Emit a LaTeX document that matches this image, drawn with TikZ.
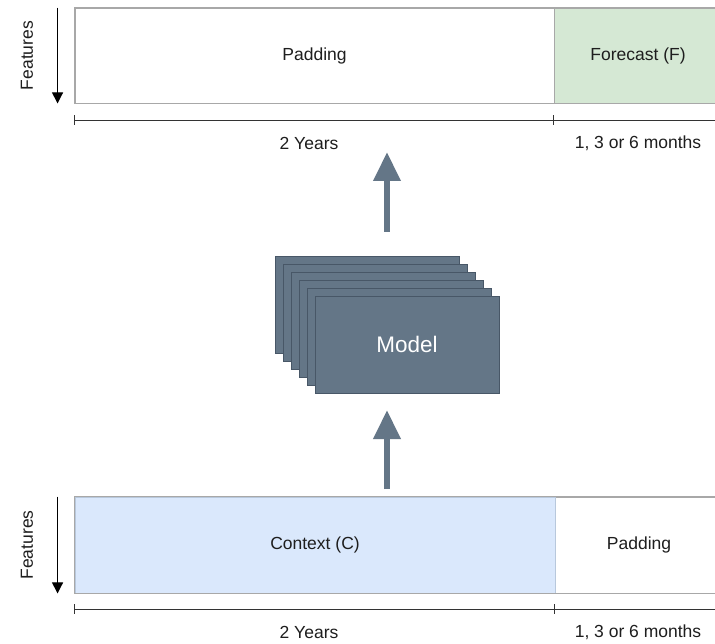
\documentclass[tikz,border=0pt]{standalone}
\usepackage{fontspec}
\setmainfont{Liberation Sans}
\usetikzlibrary{arrows.meta}
\definecolor{boxline}{HTML}{A8A8A8}
\definecolor{ctxfill}{HTML}{DAE8FC}
\definecolor{ctxline}{HTML}{B8C8DC}
\definecolor{fcfill}{HTML}{D5E8D4}
\definecolor{modelfill}{HTML}{647687}
\definecolor{modelline}{HTML}{485767}
\definecolor{txt}{HTML}{1E1E1E}
\definecolor{barline}{HTML}{333333}
\begin{document}
\begin{tikzpicture}[x=1pt,y=-1pt,
  lbl/.style={font=\fontsize{17.5}{20}\selectfont, text=txt},
  cell/.style={lbl, draw=boxline, line width=0.9pt, inner sep=0pt, minimum height=95pt},
  mstack/.style={draw=modelline, fill=modelfill, line width=0.8pt, minimum width=184pt, minimum height=97pt, inner sep=0pt},
  featarrow/.style={draw=black, line width=1pt, -{Triangle[width=11pt,length=11pt]}},
  blockarrow/.style={draw=modelfill, line width=6.5pt, -{Triangle[width=26pt,length=29pt]}},
  scalebar/.style={draw=barline, line width=0.9pt}]
\useasboundingbox (0,0) rectangle (715,644);
\clip (0,0) rectangle (715,644);
\fill[white] (0,0) rectangle (715,644);

% top row
\node[cell, minimum width=479pt] (tpad) at (314.5,55.5) {Padding};
\node[cell, fill=fcfill, minimum width=168pt] (tfc) at (638,55.5) {Forecast (F)};
\draw[boxline, line width=0.9pt] (tpad.north west) rectangle (tfc.south east);
\node[lbl, rotate=90] (tfeat) at (27,55.5) {Features};
\draw[featarrow] ([xshift=-17pt]tpad.north west) -- ([xshift=-17pt]tpad.south west);
\draw[scalebar] ([yshift=-17pt]tpad.south west) -- ([yshift=-17pt]tfc.south east);
\draw[scalebar] ([yshift=-12pt]tpad.south west) -- ([yshift=-22pt]tpad.south west);
\draw[scalebar] ([yshift=-12pt]tfc.south west) -- ([yshift=-22pt]tfc.south west);
\node[lbl] (tyears) at (309,143) {2 Years};
\node[lbl] (tmonths) at (638,143) {1, 3 or 6 months};

% model stack
\foreach \i in {0,...,4} {
  \node[mstack] (m\i) at ({407-8*(5-\i)},{344.5-8*(5-\i)}) {};
}
\node[mstack, font=\fontsize{22.5}{26}\selectfont, text=white] (model) at (407,344.5) {Model};

% block arrows
\coordinate (upS) at (387,232);
\coordinate (upE) at (387,152);
\draw[blockarrow] (upS) -- (upE);
\coordinate (inS) at (387,489);
\coordinate (inE) at (387,410);
\draw[blockarrow] (inS) -- (inE);

% bottom row
\node[cell, fill=ctxfill, draw=ctxline, minimum width=480pt, minimum height=96pt] (ctx) at (315,545) {Context (C)};
\node[cell, minimum width=168pt, minimum height=96pt] (bpad) at (639,545) {Padding};
\draw[boxline, line width=0.9pt] (ctx.north west) rectangle (bpad.south east);
\draw[ctxline, line width=0.9pt] (ctx.north east) -- (ctx.south east);
\node[lbl, rotate=90] (bfeat) at (27,545) {Features};
\draw[featarrow] ([xshift=-17pt]ctx.north west) -- ([xshift=-17pt]ctx.south west);
\draw[scalebar] ([yshift=-16pt]ctx.south west) -- ([yshift=-16pt]bpad.south east);
\draw[scalebar] ([yshift=-11pt]ctx.south west) -- ([yshift=-21pt]ctx.south west);
\draw[scalebar] ([yshift=-11pt]bpad.south west) -- ([yshift=-21pt]bpad.south west);
\node[lbl] (byears) at (309,632) {2 Years};
\node[lbl] (bmonths) at (638,632) {1, 3 or 6 months};
\end{tikzpicture}
\end{document}
